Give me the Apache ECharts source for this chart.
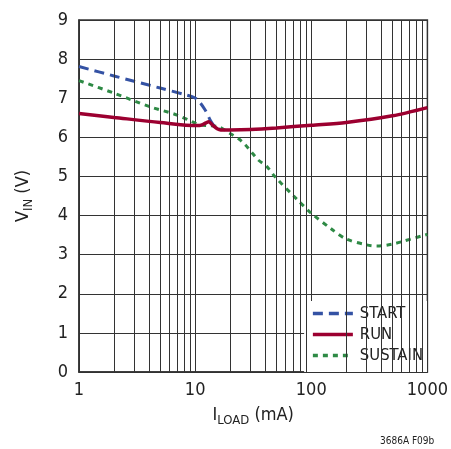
<!DOCTYPE html>
<html>
<head>
<meta charset="utf-8">
<script src="https://cdn.jsdelivr.net/npm/echarts@6/dist/echarts.min.js"></script>
<style>html,body{margin:0;padding:0;background:#fff}#c{width:451px;height:449px}</style>
</head>
<body>
<div id="c"></div>
<script>
var FONT = "'DejaVu Sans Condensed','Liberation Sans',sans-serif";
var xTicks = [1, 10, 100, 1000];
var minorX = [2,3,4,5,6,7,8,9,20,30,40,50,60,70,80,90,200,300,400,500,600,700,800,900];
var startData = [[1,7.81],[2,7.57],[5,7.26],[8,7.1],[9.4,7.04],[10.5,6.96],[12.2,6.7],[13.5,6.44],[14.5,6.3],[15.3,6.24],[16.5,6.2]];
var runData = [[1,6.61],[2,6.51],[5,6.38],[10.4,6.3],[11.5,6.32],[12.4,6.37],[13.1,6.4],[14.3,6.3],[15.5,6.22],[16.6,6.19],[20,6.19],[30,6.2],[50,6.24],[100,6.31],[200,6.38],[500,6.55],[1000,6.76]];
var sustainData = [[1,7.45],[2,7.13],[4,6.79],[7,6.57],[9.4,6.4],[11,6.32],[13,6.3],[16,6.27],[20,6.1],[24,5.95],[27,5.81],[31,5.6],[35,5.42],[41.5,5.25],[48.8,4.99],[75,4.42],[100,4.06],[150,3.65],[200,3.4],[300,3.25],[370,3.22],[500,3.27],[630,3.35],[1000,3.52]];
var yTicks = [0,1,2,3,4,5,6,7,8,9];

var chart = echarts.init(document.getElementById('c'), null, {renderer:'canvas'});
chart.setOption({
  animation: false,
  backgroundColor: '#fff',
  grid: {left: 79, right: 21, top: 20, bottom: 77, show: true, borderColor: '#333', borderWidth: 1.5, backgroundColor: 'transparent'},
  xAxis: {
    type: 'log', logBase: 10, min: xTicks[0], max: xTicks[xTicks.length-1],
    axisLine: {show: true, lineStyle: {color: '#333', width: 1.5}},
    axisTick: {show: false},
    axisLabel: {fontSize: 18, color: '#222', fontFamily: FONT, margin: 9, formatter: function(v){return String(Math.round(v));}},
    splitLine: {show: true, lineStyle: {color: '#333', width: 1}},
    name: '{n|I}{s|LOAD}{n| (mA)}', nameLocation: 'middle', nameGap: 32,
    nameTextStyle: {rich: {n: {fontSize: 18, color: '#222', fontFamily: FONT}, s: {fontSize: 13, color: '#222', fontFamily: FONT, padding: [10,0,0,0]}}}
  },
  yAxis: {
    type: 'value', min: yTicks[0], max: yTicks[yTicks.length-1], interval: 1,
    axisLine: {show: true, lineStyle: {color: '#333', width: 1.5}},
    axisTick: {show: false},
    axisLabel: {fontSize: 18, color: '#222', fontFamily: FONT, margin: 11},
    splitLine: {show: true, lineStyle: {color: '#333', width: 1}},
    name: '{n|V}{s|IN}{n| (V)}', nameLocation: 'middle', nameGap: 44,
    nameTextStyle: {rich: {n: {fontSize: 18, color: '#222', fontFamily: FONT}, s: {fontSize: 13, color: '#222', fontFamily: FONT, padding: [10,0,0,0]}}}
  },
  legend: {
    data: ['START','RUN','SUSTAIN'], orient: 'vertical', right: 24, top: 301,
    backgroundColor: '#fff', padding: [3,4,7,7], itemWidth: 40, itemHeight: 19, itemGap: 2,
    itemStyle: {opacity: 0},
    lineStyle: {width: 3.5},
    textStyle: {fontSize: 16.5, color: '#222', fontFamily: FONT, lineHeight: 19, padding: [0,0,0,2]}
  },
  graphic: [{type: 'text', left: 380, top: 436, style: {text: '3686A F09b', font: '10px ' + FONT, fill: '#222'}}],
  series: [
    {type: 'line', name: 'minor', data: [], z: 1, silent: true,
     markLine: {silent: true, symbol: ['none','none'], label: {show: false}, animation: false,
       lineStyle: {color: '#333', width: 1, type: 'solid'},
       data: minorX.map(function(v){return {xAxis: v};})}},
    {type: 'line', name: 'SUSTAIN', data: sustainData, smooth: 0.3, showSymbol: false, symbol: 'none', z: 3,
     color: '#2e8a45', lineStyle: {color: '#2e8a45', width: 3, type: [5,5]}},
    {type: 'line', name: 'START', data: startData, smooth: 0.3, showSymbol: false, symbol: 'none', z: 4,
     color: '#3452a4', lineStyle: {color: '#3452a4', width: 3, type: [10,6]}},
    {type: 'line', name: 'RUN', data: runData, smooth: 0.3, showSymbol: false, symbol: 'none', z: 5,
     color: '#9c0030', lineStyle: {color: '#9c0030', width: 3.5, type: 'solid'}}
  ]
});
</script>
</body>
</html>
